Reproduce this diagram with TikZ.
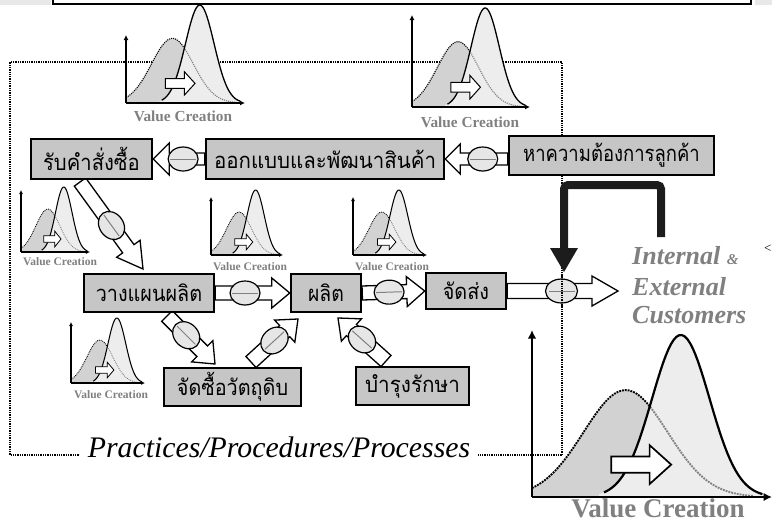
\documentclass[tikz,border=0pt]{standalone}
\usepackage{graphicx}
\usepackage{fontspec}
\setmainfont{Liberation Serif}
\newfontfamily\thaifont[Script=Thai]{Loma}
\usetikzlibrary{calc,arrows.meta,shapes.geometric}
\definecolor{boxgray}{HTML}{C6C6C6}
\definecolor{dgray}{HTML}{D2D2D2}
\definecolor{lgray}{HTML}{EDEDED}
\definecolor{ovalgray}{HTML}{E6E6E6}
\definecolor{labgray}{HTML}{808080}
\definecolor{thickblack}{HTML}{1C1C1C}
\newcommand{\bxt}[2][0.9]{\scalebox{#1}[1]{#2}}
\tikzset{
  box/.style={draw=black, line width=2.5pt, fill=boxgray, inner sep=0pt,
    font=\thaifont\fontsize{22}{24}\selectfont},
  blockarr/.style={draw=black, line width=1.3pt, fill=white, line join=miter},
  oval/.style={ellipse, draw=black, line width=1.2pt, fill=ovalgray, inner sep=0pt,
    minimum width=30pt, minimum height=24pt},
  frameline/.style={densely dotted, line width=1.3pt},
  vclabel/.style={text=labgray, anchor=base, inner sep=0pt},
  custtext/.style={text=labgray, anchor=base west, inner sep=0pt,
    font=\bfseries\itshape\fontsize{26}{28}\selectfont},
}
% block arrow: start, end, shaft half, head half, head length, ellipse pos
\newcommand{\barrow}[7][30pt]{%
  \coordinate (hb) at ($(#3)!#6!(#2)$);
  \draw[blockarr] ($(#2)!#4!90:(#3)$) -- ($(hb)!#4!90:(#3)$) -- ($(hb)!#5!90:(#3)$)
    -- (#3) -- ($(hb)!#5!-90:(#3)$) -- ($(hb)!#4!-90:(#3)$) -- ($(#2)!#4!-90:(#3)$) -- cycle;
  \path (#2) -- (#3) node[pos=#7, sloped, oval, minimum width=#1] {};
  \coordinate (ec) at ($(#2)!#7!(#3)$);
  \draw[gray, line width=1pt] ($(ec)!13pt!(#3)$) -- ($(ec)!13pt!180:(#3)$);
}
% chart: x, y, W, H, axis height, label font size, label x, label baseline, lw factor
\newcommand{\vchart}[9]{%
  \pgfmathsetmacro{\axtop}{#5/#4*100}%
  \pgfmathsetmacro{\al}{5*#9}%
  \pgfmathsetmacro{\aw}{5*#9}%
  \begin{scope}[shift={(#1,#2)}, xscale=#3/100, yscale=-#4/100]
    \fill[dgray] (0,0) -- plot[domain=0:92, samples=60] (\x,{66*exp(-((\x-39)^2)/612.5)}) -- (92,0) -- cycle;
    \draw[densely dotted, line width={#9*1.1pt}] plot[domain=0:92, samples=60] (\x,{66*exp(-((\x-39)^2)/612.5)});
    \fill[lgray] (28,0) -- plot[domain=28:97, samples=60] (\x,{100*exp(-((\x-62)^2)/288)}) -- (97,0) -- cycle;
    \begin{scope}
      \clip (28,0) -- plot[domain=28:97, samples=60] (\x,{100*exp(-((\x-62)^2)/288)}) -- (97,0) -- cycle;
      \draw[densely dotted, gray, line width={#9*1.1pt}] plot[domain=0:92, samples=60] (\x,{66*exp(-((\x-39)^2)/612.5)});
    \end{scope}
    \draw[line width={#9*1.3pt}] plot[domain=30:96, samples=60] (\x,{100*exp(-((\x-62)^2)/288)});
    \draw[fill=white, line width={#9*1pt}] (33,15) -- (49,15) -- (49,8) -- (58,20) -- (49,32) -- (49,25) -- (33,25) -- cycle;
    \draw[line width={#9*1.6pt}, -{Latex[length=\al pt, width=\aw pt]}] (0,0) -- (0,\axtop);
    \draw[line width={#9*1.6pt}, -{Latex[length=\al pt, width=\aw pt]}] (0,0) -- (100,0);
  \end{scope}
  \node[vclabel, font=\bfseries\fontsize{#6}{#6}\selectfont] at (#7,#8) {Value Creation};
}
\begin{document}
\begin{tikzpicture}[x=1pt, y=-1pt]
\useasboundingbox (0,0) rectangle (772,523);
% top cut-off box
\fill[gray!18] (0,0) rectangle (51,5);
\fill[gray!18] (755,0) rectangle (772,5);
\draw[line width=2pt, fill=white] (53,-5) rectangle (751,4);
% dotted frame
\draw[frameline] (562,455) -- (562,62) -- (10,62) -- (10,455) -- cycle;
% charts
\vchart{126}{103}{119}{98}{68}{15.3}{183}{121}{1}
\vchart{412}{107}{118}{99}{92}{15.3}{470}{127}{1}
\vchart{21}{252}{69}{65}{62}{11.5}{60}{265}{0.8}
\vchart{211}{255}{72}{65}{58}{11.5}{250}{270}{0.8}
\vchart{353}{255}{74}{65}{58}{11.5}{392}{270}{0.8}
\vchart{71}{383}{74}{65}{61}{11.5}{111}{398}{0.8}
\vchart{532}{497}{240}{162}{167}{27}{658}{517}{1.7}
% box anchors (boxes drawn after arrows)
\path (91.5,159) node[box, minimum width=121pt, minimum height=40pt, draw=none, fill=none] (A) {};
\path (325,159) node[box, minimum width=238pt, minimum height=40pt, draw=none, fill=none] (B) {};
\path (611.5,155.5) node[box, minimum width=205pt, minimum height=39pt, draw=none, fill=none] (C) {};
\path (149,293) node[box, minimum width=130pt, minimum height=38pt, draw=none, fill=none] (D) {};
\path (326,293) node[box, minimum width=70pt, minimum height=38pt, draw=none, fill=none] (E) {};
\path (466,291) node[box, minimum width=80pt, minimum height=36pt, draw=none, fill=none] (F) {};
\coordinate (a3s) at (80,182);
\coordinate (a3e) at (143,269);
\coordinate (a7s) at (167,316);
\coordinate (a7e) at (215,364);
\coordinate (a8s) at (251,362);
\coordinate (a8e) at (298,319);
\coordinate (a9s) at (386,361);
\coordinate (a9e) at (338,318);
\coordinate (cu) at (618,291);
% block arrows
\barrow{B.west}{A.east}{6pt}{16pt}{16pt}{0.42}
\barrow{C.west |- B.east}{B.east}{6pt}{15pt}{15pt}{0.40}
\barrow{a3s}{a3e}{7pt}{14.5pt}{25pt}{0.5}
\barrow{D.east}{E.west}{7pt}{15pt}{18pt}{0.4}
\barrow{E.east}{F.west}{7pt}{15pt}{18pt}{0.43}
\barrow[32pt]{F.east}{cu}{7.5pt}{15pt}{26pt}{0.49}
\barrow{a7s}{a7e}{7.5pt}{15pt}{18pt}{0.4}
\barrow{a8s}{a8e}{7.5pt}{15pt}{18pt}{0.5}
\barrow{a9s}{a9e}{7.5pt}{15pt}{18pt}{0.5}
\draw[frameline] (562,274) -- (562,312);
% boxes
\node[box, minimum width=121pt, minimum height=40pt] (A1) at (91.5,159) {\bxt[0.92]{รับคำสั่งซื้อ}};
\node[box, minimum width=238pt, minimum height=40pt] (B1) at (325,159) {\bxt[0.93]{ออกแบบและพัฒนาสินค้า}};
\node[box, minimum width=205pt, minimum height=39pt] (C1) at (611.5,155.5) {\bxt[0.84]{หาความต้องการลูกค้า}};
\node[box, minimum width=130pt, minimum height=38pt] (D1) at (149,293) {\bxt[0.9]{วางแผนผลิต}};
\node[box, minimum width=70pt, minimum height=38pt] (E1) at (326,293) {\bxt[0.88]{ผลิต}};
\node[box, minimum width=80pt, minimum height=36pt] (F1) at (466,291) {\bxt[0.9]{จัดส่ง}};
\node[box, minimum width=137pt, minimum height=38pt] (G) at (232.5,387) {\bxt[0.9]{จัดซื้อวัตถุดิบ}};
\node[box, minimum width=113pt, minimum height=38pt] (H) at (412.5,386) {\bxt[0.94]{บำรุงรักษา}};
% thick black arrow
\coordinate (t0) at (661,237);
\coordinate (t1) at (661,185);
\coordinate (t2) at (564,185);
\coordinate (t3) at (564,250);
\coordinate (t4) at (564,272);
\draw[line width=8pt, thickblack, rounded corners=4pt] (t0) -- (t1) -- (t2) -- (t3);
\fill[thickblack] ($(t3)+(-14,-2)$) -- ($(t3)+(14,-2)$) -- (t4) -- cycle;
% texts
\node[custtext] (in) at (632,264) {Internal {\fontsize{15}{15}\selectfont\&}};
\node[custtext] (ex) at (632,295) {External};
\node[custtext] (cs) at (632,323) {Customers};
\node[anchor=west, inner sep=0pt, font=\fontsize{13}{13}\selectfont] (lt) at (764,249) {<};
\node[fill=white, inner xsep=8pt, inner ysep=2pt, font=\itshape\fontsize{29.8}{31}\selectfont] (ppp) at (279,447) {Practices/Procedures/Processes};
\end{tikzpicture}
\end{document}
